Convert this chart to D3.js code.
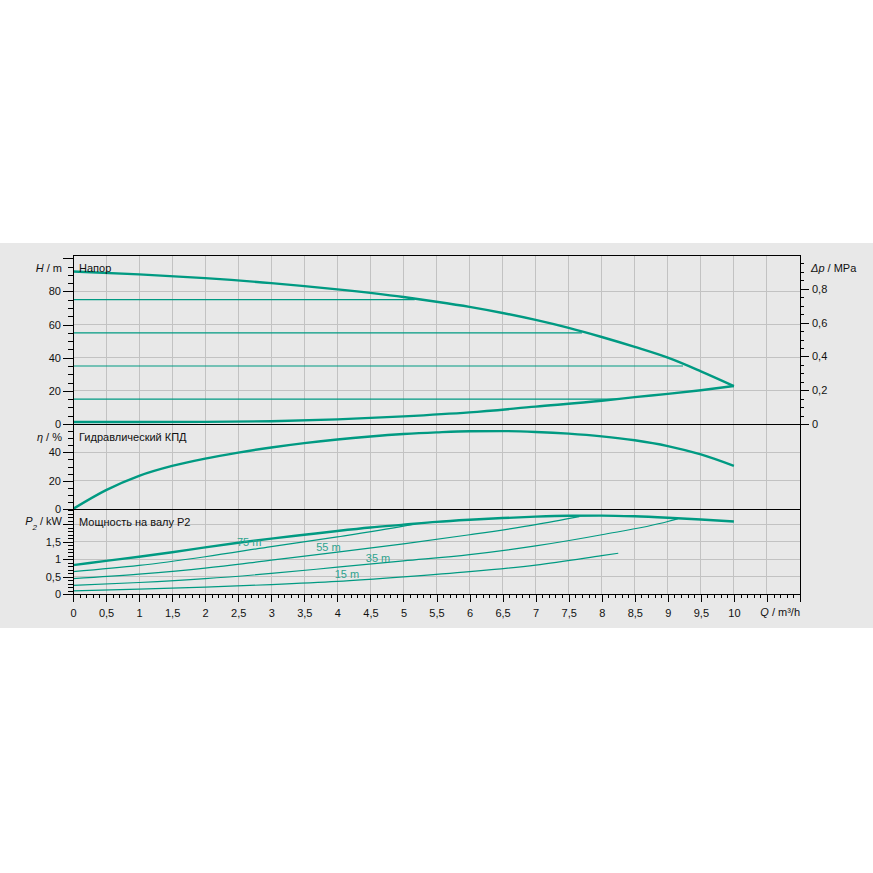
<!DOCTYPE html>
<html>
<head>
<meta charset="utf-8">
<script src="https://cdn.jsdelivr.net/npm/d3@7"></script>
<style>
  html, body { margin: 0; padding: 0; background: #ffffff; }
  svg { display: block; }
  text { font-family: "Liberation Sans", Arial, sans-serif; font-size: 11px; fill: #111; }
</style>
</head>
<body>
<svg id="chart" width="873" height="873"></svg>
<script>
// ---------- data ----------
// Pump head curve H(Q)
const headQ = [0, 1, 2, 3, 4, 5, 5.5, 6, 6.5, 7, 7.5, 8, 8.5, 9, 9.5, 10];
const headH = [92, 90.3, 88, 85, 81.2, 76.6, 73.8, 70.7, 67, 62.8, 58, 52.5, 46.5, 40, 31.8, 22.9];
// Lower head curve
const lowQ = [0, 2, 3, 4, 5, 6, 7, 8, 8.5, 9, 9.5, 10];
const lowH = [1.2, 1.3, 1.7, 2.8, 4.6, 7, 10.5, 14, 16.2, 18.2, 20.4, 22.9];
// Constant head lines (m) and where they end (Q)
const levelH = [75, 55, 35, 15];
const levelEndQ = [5.17, 7.7, 9.23, 8.26];
// Hydraulic efficiency
const etaQ = [0, 0.5, 1, 1.5, 2, 2.5, 3, 3.5, 4, 4.5, 5, 5.5, 6, 6.5, 7, 7.5, 8, 8.5, 9, 9.5, 10];
const etaV = [0, 13.3, 23.4, 30.4, 35.6, 39.8, 43.4, 46.5, 49.1, 51.2, 52.9, 54.1, 54.9, 55, 54.4, 53.2, 51.3, 48.5, 44.4, 38.5, 30.4];
// Shaft power P2 (pump curve)
const powQ = [0, 0.5, 1, 1.5, 2, 2.5, 3, 3.5, 4, 4.5, 5, 5.5, 6, 6.5, 7, 7.5, 8, 8.5, 9, 9.5, 10];
const powP = [0.83, 0.95, 1.07, 1.2, 1.34, 1.47, 1.59, 1.7, 1.81, 1.91, 1.99, 2.07, 2.13, 2.18, 2.22, 2.245, 2.25, 2.23, 2.19, 2.14, 2.08];
// Shaft power at constant head
const p75Q = [0, 1, 2, 3, 4, 5, 5.17];
const p75P = [0.64, 0.82, 1.07, 1.36, 1.64, 1.95, 2.01];
const p55Q = [0, 1, 2, 3, 4, 5, 6, 7, 7.66];
const p55P = [0.44, 0.57, 0.74, 0.97, 1.2, 1.44, 1.7, 1.99, 2.22];
const p35Q = [0, 1, 2, 3, 4, 5, 6, 7, 8, 9, 9.15];
const p35P = [0.25, 0.33, 0.44, 0.59, 0.77, 0.95, 1.13, 1.38, 1.7, 2.08, 2.16];
const p15Q = [0, 1, 2, 3, 4, 5, 6, 7, 8, 8.25];
const p15P = [0.09, 0.14, 0.2, 0.27, 0.36, 0.49, 0.64, 0.83, 1.1, 1.17];
// Labels of the constant head power lines: text, Q, P
const powLabelText = ["75 m", "55 m", "35 m", "15 m"];
const powLabelQ = [2.48, 3.68, 4.43, 3.96];
const powLabelP = [1.49, 1.34, 1.03, 0.57];
// Tick values
const xMajor = d3.range(0, 11.001, 0.5);
const xMinor = d3.range(0, 11.001, 0.1);
const hMajor = [0, 20, 40, 60, 80, 100];
const hLabelled = [0, 20, 40, 60, 80];
const hMinor = d3.range(0, 100.001, 5);
const dpMajor = [0, 0.2, 0.4, 0.6, 0.8];
const dpMinor = d3.range(0, 0.951, 0.05);
const etaMajor = [0, 20, 40];
const etaMinor = d3.range(0, 55.001, 5);
const pMajor = [0, 0.5, 1, 1.5, 2];
const pLabelled = [0, 0.5, 1, 1.5];
const pMinor = d3.range(0, 2.401, 0.1);

// ---------- layout ----------
const TEAL = "#009a82";
const L = 73, R = 800, T = 255, S1 = 424, S2 = 509, B = 594;
const svg = d3.select("#chart");

svg.append("rect").attr("x", 0).attr("y", 243).attr("width", 873).attr("height", 385).attr("fill", "#e8e8e8");

const x = d3.scaleLinear().domain([0, 11]).range([L, R]);
const yH = d3.scaleLinear().domain([0, 101.97]).range([S1, T]);
const yDp = d3.scaleLinear().domain([0, 1]).range([S1, T]);
const yEta = d3.scaleLinear().domain([0, 60]).range([S2, S1]);
const yP = d3.scaleLinear().domain([0, 2.44]).range([B, S2]);

const comma = v => String(+v.toFixed(2)).replace(".", ",");

// gridlines
const grid = svg.append("g").attr("stroke", "#c2c2c2").attr("stroke-width", 1).attr("shape-rendering", "crispEdges");
d3.range(0.5, 10.501, 0.5).forEach(q => {
  grid.append("line").attr("x1", x(q)).attr("x2", x(q)).attr("y1", T).attr("y2", B);
});
[20, 40, 60, 80].forEach(h => grid.append("line").attr("x1", L).attr("x2", R).attr("y1", yH(h)).attr("y2", yH(h)));
[20, 40].forEach(e => grid.append("line").attr("x1", L).attr("x2", R).attr("y1", yEta(e)).attr("y2", yEta(e)));
[0.5, 1, 1.5, 2].forEach(p => grid.append("line").attr("x1", L).attr("x2", R).attr("y1", yP(p)).attr("y2", yP(p)));

// clip paths per panel
const defs = svg.append("defs");
function clip(id, y0, y1) {
  defs.append("clipPath").attr("id", id).append("rect").attr("x", L).attr("y", y0).attr("width", R - L).attr("height", y1 - y0);
}
clip("c1", T, S1 + 1);
clip("c2", S1, S2 + 1);
clip("c3", S2, B + 1);

function curve(g, qs, vs, ys, w) {
  const pts = qs.map((q, i) => [x(q), ys(vs[i])]);
  g.append("path").attr("d", d3.line().curve(d3.curveMonotoneX)(pts))
    .attr("fill", "none").attr("stroke", TEAL).attr("stroke-width", w)
    .attr("stroke-linejoin", "round").attr("stroke-linecap", "butt");
}

// top panel
const g1 = svg.append("g").attr("clip-path", "url(#c1)");
levelH.forEach((h, i) => {
  g1.append("line").attr("x1", x(0)).attr("x2", x(levelEndQ[i])).attr("y1", yH(h)).attr("y2", yH(h))
    .attr("stroke", TEAL).attr("stroke-width", 1.2);
});
curve(g1, headQ, headH, yH, 2.4);
curve(g1, lowQ, lowH, yH, 2.4);

// middle panel
const g2 = svg.append("g").attr("clip-path", "url(#c2)");
curve(g2, etaQ, etaV, yEta, 2.4);

// bottom panel
const g3 = svg.append("g").attr("clip-path", "url(#c3)");
curve(g3, p75Q, p75P, yP, 1.2);
curve(g3, p55Q, p55P, yP, 1.2);
curve(g3, p35Q, p35P, yP, 1.2);
curve(g3, p15Q, p15P, yP, 1.2);
curve(g3, powQ, powP, yP, 2.4);
powLabelText.forEach((t, i) => {
  svg.append("text").attr("x", x(powLabelQ[i])).attr("y", yP(powLabelP[i])).attr("dy", "0.35em")
    .style("fill", "#2ea38e").text(t);
});

// frame and separators
const frame = svg.append("g").attr("stroke", "#000").attr("stroke-width", 1).attr("shape-rendering", "crispEdges").attr("fill", "none");
frame.append("rect").attr("x", L).attr("y", T).attr("width", R - L).attr("height", B - T);
frame.append("line").attr("x1", L).attr("x2", R).attr("y1", S1).attr("y2", S1);
frame.append("line").attr("x1", L).attr("x2", R).attr("y1", S2).attr("y2", S2);

// axes
function styleAxis(g) {
  g.select(".domain").remove();
  g.selectAll("line").attr("stroke", "#000").attr("shape-rendering", "crispEdges");
  g.selectAll("text").attr("fill", "#111").style("font-size", "11px");
}
function leftAxis(scale, major, minor, labelled) {
  svg.append("g").attr("transform", `translate(${L},0)`)
    .call(d3.axisLeft(scale).tickValues(minor).tickSize(5).tickFormat(""))
    .call(styleAxis);
  svg.append("g").attr("transform", `translate(${L},0)`)
    .call(d3.axisLeft(scale).tickValues(major).tickSize(10).tickPadding(2)
      .tickFormat(v => labelled.some(l => Math.abs(l - v) < 1e-9) ? comma(v) : ""))
    .call(styleAxis);
}
leftAxis(yH, hMajor, hMinor, hLabelled);
leftAxis(yEta, etaMajor, etaMinor, etaMajor);
leftAxis(yP, pMajor, pMinor, pLabelled);

svg.append("g").attr("transform", `translate(${R},0)`)
  .call(d3.axisRight(yDp).tickValues(dpMinor).tickSize(4).tickFormat(""))
  .call(styleAxis);
svg.append("g").attr("transform", `translate(${R},0)`)
  .call(d3.axisRight(yDp).tickValues(dpMajor).tickSize(9).tickPadding(3).tickFormat(comma))
  .call(styleAxis);

svg.append("g").attr("transform", `translate(0,${B})`)
  .call(d3.axisBottom(x).tickValues(xMinor).tickSize(4).tickFormat(""))
  .call(styleAxis);
svg.append("g").attr("transform", `translate(0,${B})`)
  .call(d3.axisBottom(x).tickValues(xMajor).tickSize(8).tickPadding(7)
    .tickFormat(v => v <= 10.001 ? comma(v) : ""))
  .call(styleAxis);

// axis titles
function title(xp, yp, anchor, parts) {
  const t = svg.append("text").attr("x", xp).attr("y", yp).attr("dy", "0.35em").attr("text-anchor", anchor);
  parts.forEach(p => {
    const s = t.append("tspan").text(p.t);
    if (p.i) s.style("font-style", "italic");
    if (p.sub) s.attr("baseline-shift", "sub").style("font-size", "8px");
  });
}
title(62, 268.5, "end", [{t: "H", i: true}, {t: " / m"}]);
title(62, 437.5, "end", [{t: "η", i: true}, {t: " / %"}]);
title(62, 521.5, "end", [{t: "P", i: true}, {t: "2", i: true, sub: true}, {t: " / kW"}]);
title(811, 268.5, "start", [{t: "Δp", i: true}, {t: " / MPa"}]);
title(800, 612.5, "end", [{t: "Q", i: true}, {t: " / m³/h"}]);

// panel titles
svg.append("text").attr("x", 79).attr("y", 268).attr("dy", "0.35em").text("Напор");
svg.append("text").attr("x", 79).attr("y", 437.5).attr("dy", "0.35em").text("Гидравлический КПД");
svg.append("text").attr("x", 79).attr("y", 522).attr("dy", "0.35em").text("Мощность на валу P2");
</script>
</body>
</html>
